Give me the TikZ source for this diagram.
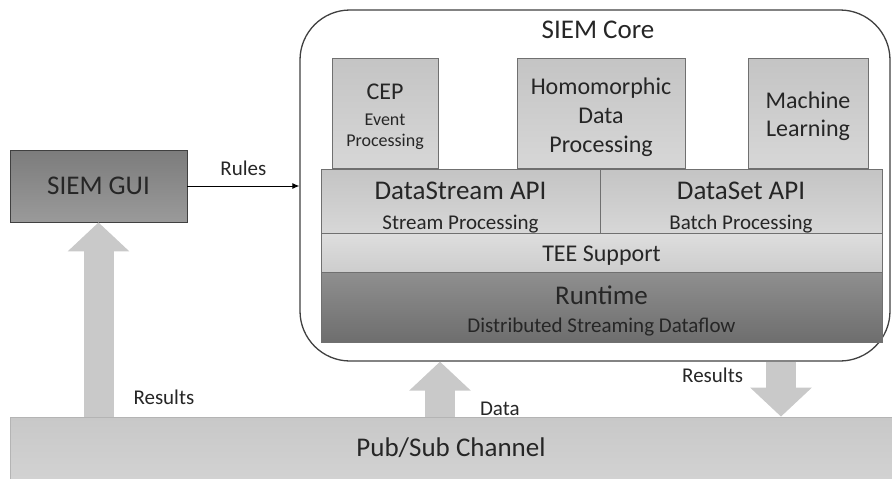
\documentclass[tikz,border=0pt]{standalone}
\usepackage{fontspec}
\setmainfont{Carlito}
\usetikzlibrary{arrows.meta,positioning}
\definecolor{txtgray}{HTML}{262626}
\definecolor{boxline}{HTML}{707070}
\definecolor{coreline}{HTML}{404040}
\definecolor{arrowgray}{HTML}{C9C9C9}
\newcommand\fsA{\fontsize{27}{31}\selectfont}
\newcommand\fsB{\fontsize{24}{29}\selectfont}
\newcommand\fsC{\fontsize{21}{26}\selectfont}
\newcommand\fsD{\fontsize{18}{21}\selectfont}
\tikzset{
	box/.style={draw=boxline, line width=.8pt, inner sep=0pt, text=txtgray, align=center},
	lightbox/.style={box, top color={rgb,255:red,196;green,196;blue,196}, bottom color={rgb,255:red,215;green,215;blue,215}},
	teebox/.style={box, top color={rgb,255:red,222;green,222;blue,222}, bottom color={rgb,255:red,205;green,205;blue,205}},
	darkbox/.style={box, top color={rgb,255:red,143;green,143;blue,143}, bottom color={rgb,255:red,110;green,110;blue,110}},
	guibox/.style={box, draw=coreline, top color={rgb,255:red,124;green,124;blue,124}, bottom color={rgb,255:red,154;green,154;blue,154}},
	busbox/.style={box, draw={rgb,255:red,180;green,180;blue,180}, top color={rgb,255:red,200;green,200;blue,200}, bottom color={rgb,255:red,210;green,210;blue,210}},
	corebox/.style={draw=coreline, line width=1.3pt, rounded corners=50pt, inner sep=0pt},
	boxtext/.style={text=txtgray, inner sep=0pt, align=center},
	blockarrow/.style={draw=arrowgray, line width=30pt, -{Triangle[width=60pt,length=29pt]}},
	lbl/.style={text=txtgray, inner sep=0pt, font=\fsC}
}
\begin{document}
\begin{tikzpicture}[x=1pt,y=-1pt]
\useasboundingbox (0,0) rectangle (892,479);
% channel and gui
\node[busbox, font=\fsA, minimum width=882pt, minimum height=62pt] (bus) at (451,448) {Pub/Sub Channel};
\node[guibox, font=\fsA, minimum width=177pt, minimum height=72pt] (gui) at (98.5,186) {SIEM GUI};

% siem core
\begin{scope}
	\node[corebox, minimum width=590pt, minimum height=351pt] (core) at (595,185.5) {};
	\node[text=txtgray, inner sep=0pt, font=\fsA] (coretitle) at (598,30) {SIEM Core};
	\node[lightbox, minimum width=106pt, minimum height=110pt] (cep) at (385,113) {};
	\node[lightbox, minimum width=168pt, minimum height=110pt] (homo) at (601,113) {};
	\node[lightbox, minimum width=120pt, minimum height=110pt] (ml) at (808,113) {};
	\node[lightbox, minimum width=279pt, minimum height=64pt] (dstream) at (460.5,201) {};
	\node[lightbox, minimum width=282pt, minimum height=64pt] (dset) at (741,201) {};
	\node[teebox, font=\fsB, minimum width=561pt, minimum height=39pt] (tee) at (601.5,252.5) {};
	\node[darkbox, minimum width=561pt, minimum height=70pt] (runtime) at (601.5,307) {};

	\node[boxtext, font=\fsD] (ceptext) at ([yshift=-4pt]cep.center) {{\fsB CEP}\\[5pt]Event\\Processing};
	\node[boxtext, font=\fsB] (homotext) at ([yshift=-4pt]homo.center) {Homomorphic\\Data\\Processing};
	\node[boxtext, font=\fsB] (mltext) at ([yshift=-3pt]ml.center) {Machine\\[-1pt]Learning};
	\node[boxtext, font=\fsA] (dstreamtext) at ([yshift=-7pt]dstream.center) {DataStream API\\[-1pt]{\fsC Stream Processing}};
	\node[boxtext, font=\fsA] (dsettext) at ([yshift=-7pt]dset.center) {DataSet API\\[-1pt]{\fsC Batch Processing}};
	\node[boxtext, font=\fsB] (teetext) at ([yshift=-3pt]tee.center) {TEE Support};
	\node[boxtext, font=\fsA] (runtimetext) at ([yshift=-4pt]runtime.center) {Runtime\\[-3pt]{\fsC Distributed Streaming Dataflow}};
\end{scope}

% connectors
\draw[-{Latex[length=7pt,width=6pt]}, line width=.9pt] (gui.east) -- node[lbl, above=10pt] (rules) {Rules} (gui.east -| core.west);

\coordinate (datax) at (440,0);
\coordinate (resx) at (781,0);
\draw[blockarrow] (gui |- bus.north) -- node[lbl, pos=.1, right=20pt] (guires) {Results} (gui.south);
\draw[blockarrow] (datax |- bus.north) -- node[lbl, pos=.15, right=25pt] (datalbl) {Data} (datax |- core.south);
\draw[blockarrow] (resx |- core.south) -- node[lbl, pos=.25, left=23pt] (coreres) {Results} (resx |- bus.north);
\end{tikzpicture}
\end{document}
